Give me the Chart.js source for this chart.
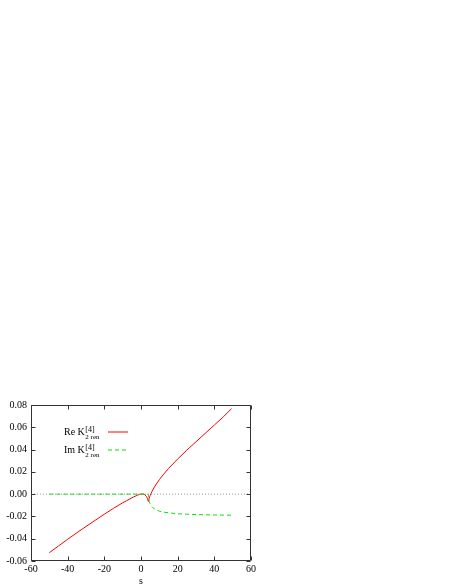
<!DOCTYPE html>
<html>
<head>
<meta charset="utf-8">
<script src="https://cdn.jsdelivr.net/npm/chart.js@4/dist/chart.umd.min.js"></script>
<style>
  html, body { margin: 0; padding: 0; background: #fff; }
  #wrap { width: 454px; height: 588px; }
</style>
</head>
<body>
<div id="wrap"><canvas id="c" width="454" height="588"></canvas></div>
<script>
// ---- data ----
const reS = [-50, -45, -40, -35, -30, -25, -20, -15, -10, -8, -6, -4, -2, -1, 0, 1, 2, 3, 3.5, 4,
             4.3, 4.7, 5, 6, 7, 8, 10, 12, 15, 20, 25, 30, 35, 40, 45, 49.4];
const reK = [-0.0525, -0.0465, -0.0405, -0.0347, -0.029, -0.0235, -0.018, -0.0127, -0.0078, -0.006,
             -0.0042, -0.0025, -0.001, -0.0004, 0, 0.0002, -0.0003, -0.0022, -0.0038, -0.0065,
             -0.0045, -0.0025, -0.0012, 0.0025, 0.0055, 0.0082, 0.013, 0.0172, 0.023, 0.0315,
             0.0395, 0.047, 0.0545, 0.062, 0.0695, 0.0768];

const imS = [-50, 4, 4.2, 4.5, 5, 6, 7, 8, 10, 12, 15, 20, 25, 30, 35, 40, 45, 50];
const imK = [0, 0, -0.0044, -0.0066, -0.0088, -0.0114, -0.0129, -0.0139, -0.0153, -0.0161,
             -0.0167, -0.0176, -0.018, -0.0183, -0.0185, -0.0187, -0.0188, -0.0189];

const zeroS = [-60, 60];
const zeroY = [0, 0];

const xTicks = [-60, -40, -20, 0, 20, 40, 60];
const yTicks = [-0.06, -0.04, -0.02, 0, 0.02, 0.04, 0.06, 0.08];

const SERIF = "'Liberation Serif', 'Times New Roman', serif";
const RED = '#ff0000';
const GREEN = '#00e800';

function pts(xs, ys) {
  return xs.map((x, i) => ({ x, y: ys[i] }));
}

// gnuplot-like frame with inward ticks on all four sides
const framePlugin = {
  id: 'frame',
  afterDatasetsDraw(chart) {
    const { ctx, chartArea: a, scales } = chart;
    const L = Math.round(a.left) + 0.5, R = Math.round(a.right) - 0.5;
    const T = Math.round(a.top) + 0.5, B = Math.round(a.bottom) - 0.5;
    const len = 4;
    ctx.save();
    ctx.strokeStyle = '#333';
    ctx.lineWidth = 1;
    ctx.beginPath();
    ctx.rect(L, T, R - L, B - T);
    xTicks.forEach(v => {
      const px = Math.round(scales.x.getPixelForValue(v)) + 0.5;
      ctx.moveTo(px, B); ctx.lineTo(px, B - len);
      ctx.moveTo(px, T); ctx.lineTo(px, T + len);
    });
    yTicks.forEach(v => {
      const py = Math.round(scales.y.getPixelForValue(v)) + 0.5;
      ctx.moveTo(L, py); ctx.lineTo(L + len, py);
      ctx.moveTo(R, py); ctx.lineTo(R - len, py);
    });
    ctx.stroke();
    ctx.restore();
  }
};

// key with K^{[4]}_{2 ren} labels
const keyPlugin = {
  id: 'key',
  afterDraw(chart) {
    const { ctx } = chart;
    const rows = [
      { name: 'Re K', base: 435, color: RED, dash: [] },
      { name: 'Im K', base: 453, color: GREEN, dash: [4, 3] }
    ];
    ctx.save();
    ctx.fillStyle = '#000';
    ctx.textBaseline = 'alphabetic';
    rows.forEach(r => {
      ctx.font = '10px ' + SERIF;
      ctx.textAlign = 'left';
      ctx.fillText(r.name, 64, r.base);
      const x2 = 64 + ctx.measureText(r.name).width + 0.5;
      ctx.font = '8px ' + SERIF;
      ctx.fillText('[4]', x2, r.base - 3);
      ctx.font = '7px ' + SERIF;
      ctx.fillText('2 ren', x2, r.base + 4);
      ctx.strokeStyle = r.color;
      ctx.lineWidth = 1;
      ctx.setLineDash(r.dash);
      ctx.beginPath();
      ctx.moveTo(108, r.base - 3);
      ctx.lineTo(128, r.base - 3);
      ctx.stroke();
    });
    ctx.restore();
  }
};

new Chart(document.getElementById('c'), {
  type: 'line',
  data: {
    datasets: [
      {
        label: 'zero',
        data: pts(zeroS, zeroY),
        borderColor: '#999',
        borderWidth: 1,
        borderDash: [1, 2],
        pointRadius: 0,
        tension: 0
      },
      {
        label: 'Im K',
        data: pts(imS, imK),
        borderColor: GREEN,
        borderWidth: 1,
        borderDash: [4, 3],
        pointRadius: 0,
        cubicInterpolationMode: 'monotone'
      },
      {
        label: 'Re K',
        data: pts(reS, reK),
        borderColor: RED,
        borderWidth: 1,
        pointRadius: 0,
        tension: 0
      }
    ]
  },
  options: {
    responsive: false,
    animation: false,
    devicePixelRatio: 1,
    layout: { padding: { left: 0, top: 405, right: 203, bottom: 0 } },
    plugins: {
      legend: { display: false },
      tooltip: { enabled: false }
    },
    scales: {
      x: {
        type: 'linear',
        min: -60,
        max: 60,
        afterBuildTicks: s => { s.ticks = xTicks.map(v => ({ value: v })); },
        afterFit: s => { s.height = 27; },
        grid: { display: false, drawTicks: false },
        border: { display: false },
        ticks: {
          padding: 2,
          color: '#000',
          font: { family: SERIF, size: 10 },
          maxRotation: 0,
          callback: v => String(v)
        },
        title: {
          display: true,
          text: 's',
          color: '#000',
          font: { family: SERIF, size: 10 },
          padding: { top: 0, bottom: 1 }
        }
      },
      y: {
        type: 'linear',
        min: -0.06,
        max: 0.08,
        afterBuildTicks: s => { s.ticks = yTicks.map(v => ({ value: v })); },
        afterFit: s => { s.width = 31; },
        grid: { display: false, drawTicks: false },
        border: { display: false },
        ticks: {
          padding: 4,
          color: '#000',
          font: { family: SERIF, size: 10 },
          callback: v => v.toFixed(2)
        }
      }
    }
  },
  plugins: [framePlugin, keyPlugin]
});
</script>
</body>
</html>
